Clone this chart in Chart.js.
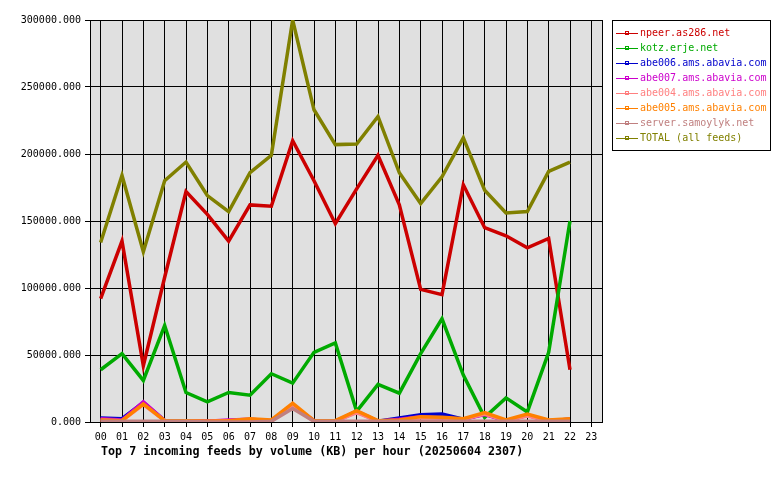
<!DOCTYPE html>
<html>
<head>
<meta charset="utf-8">
<script src="https://cdn.jsdelivr.net/npm/chart.js@4"></script>
<style>
  body { margin: 0; background: #fff; }
</style>
</head>
<body>
<canvas id="grafico" width="780" height="480"></canvas>
<script>
const horas = ['00','01','02','03','04','05','06','07','08','09','10','11','12','13','14','15','16','17','18','19','20','21','22','23'];

const npeer   = [92000,135000,42000,108000,172000,155000,135000,162000,161000,210000,180000,148000,174000,199000,162000,99000,95000,177000,145000,139000,130000,137000,39000];
const kotz    = [39000,51000,31000,72000,22000,15000,22000,20000,36000,29000,52000,59000,8000,28000,21500,51000,77000,35000,3500,18000,7500,52000,150000];
const abe006  = [3000,2500,14500,1000,1000,500,500,1000,1000,12000,1000,500,8000,500,3000,5500,6000,2000,6000,1000,5000,1000,2000];
const abe007  = [2500,1500,15000,1000,1000,500,1500,2000,1000,12500,1000,500,7500,500,2000,4000,3000,2000,5500,1000,5000,1000,2000];
const abe004  = [1500,1000,13000,1000,1000,500,1000,1500,1000,11500,500,500,7000,500,1000,3000,3000,2000,6000,1000,4500,1000,1500];
const abe005  = [1500,1000,13500,1000,1000,500,1000,2500,1500,14000,1000,1000,8500,1000,1500,4000,3500,2500,7000,1500,6000,1500,2500];
const samoylyk= [500,500,500,500,500,0,0,0,500,10000,500,500,500,500,500,500,500,500,500,500,500,500,500];
const total   = [134000,184000,127000,180000,194000,169000,157000,186000,199000,300000,233000,207000,207500,228000,186000,163000,183000,212000,173000,156000,157000,187000,194000];

const series = [
  { label: 'npeer.as286.net', data: npeer, color: '#cc0000' },
  { label: 'kotz.erje.net', data: kotz, color: '#00aa00' },
  { label: 'abe006.ams.abavia.com', data: abe006, color: '#0000cc' },
  { label: 'abe007.ams.abavia.com', data: abe007, color: '#cc00cc' },
  { label: 'abe004.ams.abavia.com', data: abe004, color: '#ff8080' },
  { label: 'abe005.ams.abavia.com', data: abe005, color: '#ff8000' },
  { label: 'server.samoylyk.net', data: samoylyk, color: '#c08080' },
  { label: 'TOTAL (all feeds)', data: total, color: '#808000' }
];

const titulo = 'Top 7 incoming feeds by volume (KB) per hour (20250604 2307)';
const fuente = '"DejaVu Sans Mono", monospace';

// fondo gris, borde derecho, leyenda y titulo
const extras = {
  id: 'extras',
  beforeDraw(chart) {
    const a = chart.chartArea, c = chart.ctx;
    c.save();
    c.fillStyle = '#e0e0e0';
    c.fillRect(a.left, a.top, a.right - a.left, a.bottom - a.top);
    c.restore();
  },
  afterDraw(chart) {
    const a = chart.chartArea, c = chart.ctx;
    c.save();
    c.strokeStyle = '#000';
    c.lineWidth = 1;
    c.beginPath();
    c.moveTo(Math.round(a.right) + 0.5, a.top);
    c.lineTo(Math.round(a.right) + 0.5, a.bottom);
    c.stroke();

    // leyenda
    c.strokeRect(612.5, 20.5, 158, 130);
    c.font = '10px ' + fuente;
    c.textBaseline = 'middle';
    series.forEach((s, i) => {
      const y = 33 + i * 15;
      c.strokeStyle = s.color;
      c.beginPath();
      c.moveTo(616, y + 0.5);
      c.lineTo(638, y + 0.5);
      c.stroke();
      c.strokeRect(625.5, y - 1.5, 3, 3);
      c.fillStyle = s.color;
      c.fillText(s.label, 640, y);
    });

    c.fillStyle = '#000';
    c.font = 'bold 11.7px ' + fuente;
    c.fillText(titulo, 101, 452);
    c.restore();
  }
};

new Chart(document.getElementById('grafico'), {
  type: 'line',
  data: {
    labels: horas,
    datasets: series.map((s, i) => ({
      label: s.label,
      data: s.data,
      borderColor: s.color,
      backgroundColor: s.color,
      borderWidth: 3.5,
      pointRadius: 0,
      tension: 0,
      fill: false,
      order: series.length - i
    }))
  },
  options: {
    responsive: false,
    animation: false,
    layout: { padding: { left: 0, right: 178, top: 20, bottom: 0 } },
    plugins: { legend: { display: false }, tooltip: { enabled: false } },
    scales: {
      x: {
        offset: true,
        grid: { offset: false, color: '#000', tickLength: 5, tickColor: '#000' },
        border: { color: '#000' },
        ticks: { color: '#000', font: { family: fuente, size: 10 }, padding: 4, maxRotation: 0, autoSkip: false },
        afterFit(scale) { scale.height = 58; }
      },
      y: {
        min: 0,
        max: 300000,
        grid: { color: '#000', tickLength: 5, tickColor: '#000' },
        border: { color: '#000' },
        ticks: {
          stepSize: 50000,
          color: '#000',
          font: { family: fuente, size: 10 },
          padding: 4,
          callback: v => v.toFixed(3)
        },
        afterFit(scale) { scale.width = 90; }
      }
    }
  },
  plugins: [extras]
});
</script>
</body>
</html>
